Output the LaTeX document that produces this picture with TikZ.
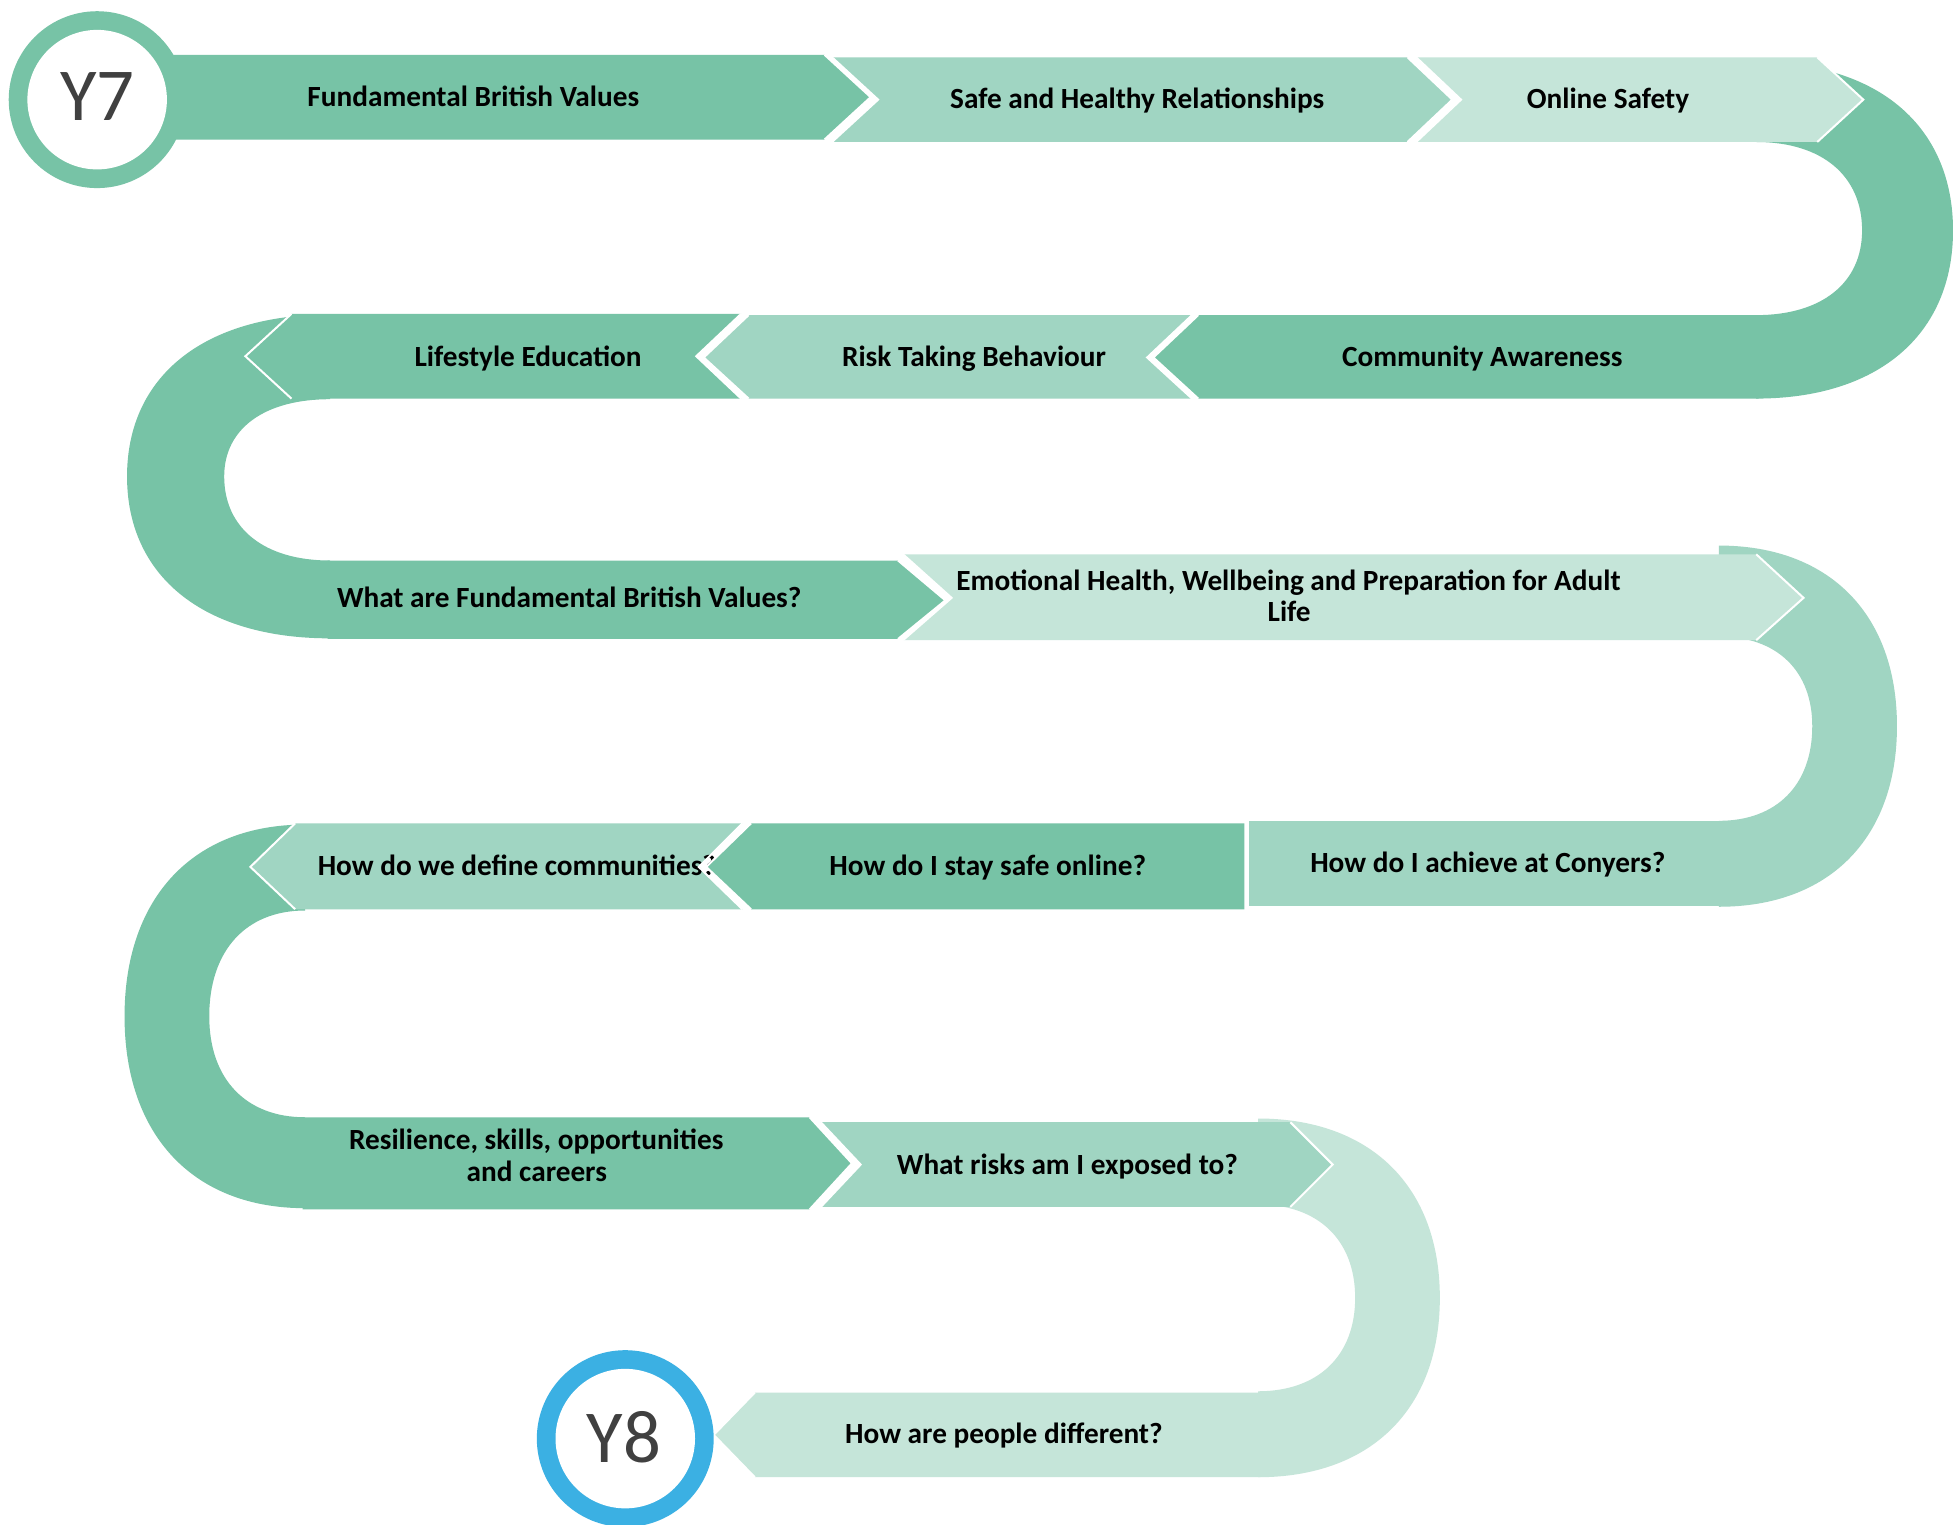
\documentclass[tikz,border=0pt]{standalone}
\usepackage{fontspec}
\setmainfont{Carlito}
\definecolor{gdark}{HTML}{77C3A6}
\definecolor{gmid}{HTML}{A0D5C2}
\definecolor{glight}{HTML}{C5E5D9}
\definecolor{yblue}{HTML}{3BB0E3}
\definecolor{ygray}{HTML}{404040}
\def\kk{0.62}
% #1 colour, #2 x0, #3 cy, #4 Rx, #5 Ry, #6 rx, #7 ry top, #8 ry bottom, #9 direction (1 right, -1 left)
\newcommand{\myUturn}[9]{%
 \fill[#1] ({#2},{#3-#5}) .. controls ({#2+(#9)*\kk*#4},{#3-#5}) and ({#2+(#9)*#4},{#3-\kk*#5}) .. ({#2+(#9)*#4},{#3})
   .. controls ({#2+(#9)*#4},{#3+\kk*#5}) and ({#2+(#9)*\kk*#4},{#3+#5}) .. ({#2},{#3+#5})
   -- ({#2},{#3+#8}) .. controls ({#2+(#9)*\kk*#6},{#3+#8}) and ({#2+(#9)*#6},{#3+\kk*#8}) .. ({#2+(#9)*#6},{#3})
   .. controls ({#2+(#9)*#6},{#3-\kk*#7}) and ({#2+(#9)*\kk*#6},{#3-#7}) .. ({#2},{#3-#7}) -- cycle;}
\tikzset{
  sepline/.style={white, line width=1.6pt, line join=miter},
  lbl/.style={font=\bfseries\fontsize{23.5}{28}\selectfont, anchor=base, inner sep=0pt, text=black},
  ylbl/.style={font=\fontsize{60}{70}\selectfont, anchor=base, inner sep=0pt, text=ygray}
}
\begin{document}
\begin{tikzpicture}[x=1pt,y=-1pt]
\useasboundingbox[fill=white] (0,0) rectangle (1568,1224);

% U-turns
\myUturn{gdark}{1410}{185}{158}{135}{85}{71}{68}{1}
\myUturn{gdark}{265}{382.5}{163}{130}{85}{62}{67.5}{-1}
\myUturn{gmid}{1380}{583}{143}{145}{75}{72}{76}{1}
\myUturn{gdark}{245}{816}{145}{154}{77}{85}{81}{-1}
\myUturn{glight}{1010}{1042}{146}{144}{78}{75}{75}{1}

% Row 1
\fill[gdark] (120,44) -- (662,44) -- (699,78) -- (662,112) -- (120,112) -- cycle;
\draw[sepline] (662,44) -- (699,78) -- (662,112);
\node[lbl] (fbv) at (380,85.5) {Fundamental British Values};
\fill[gmid] (668,46) -- (1130,46) -- (1166,80) -- (1130,114) -- (668,114) -- (705,80) -- cycle;
\draw[sepline] (668,46) -- (705,80) -- (668,114);
\draw[sepline] (1130,46) -- (1166,80) -- (1130,114);
\node[lbl] (shr) at (913,87) {Safe and Healthy Relationships};
\fill[glight] (1137,46) -- (1459,46) -- (1496,80) -- (1459,114) -- (1137,114) -- (1173,80) -- cycle;
\draw[sepline] (1137,46) -- (1173,80) -- (1137,114);
\draw[sepline] (1459,46) -- (1496,80) -- (1459,114);
\node[lbl] (os) at (1291,87) {Online Safety};

% Row 2
\fill[gdark] (1412,253) -- (962,253) -- (926,287) -- (962,320) -- (1412,320) -- cycle;
\draw[sepline] (962,253) -- (926,287) -- (962,320);
\node[lbl] (ca) at (1190,294.5) {Community Awareness};
\fill[gmid] (957,253) -- (601,253) -- (565,287) -- (601,320) -- (957,320) -- (921,287) -- cycle;
\draw[sepline] (957,253) -- (921,287) -- (957,320);
\draw[sepline] (601,253) -- (565,287) -- (601,320);
\node[lbl] (rtb) at (782,294) {Risk Taking Behaviour};
\fill[gdark] (595,252) -- (234,252) -- (197,286) -- (234,320) -- (595,320) -- (559,286) -- cycle;
\draw[sepline] (595,252) -- (559,286) -- (595,320);
\draw[sepline] (234,252) -- (197,286) -- (234,320);
\node[lbl] (le) at (424,294) {Lifestyle Education};

% Row 3
\fill[gdark] (263,450) -- (721,450) -- (759,482) -- (721,513) -- (263,513) -- cycle;
\draw[sepline] (721,450) -- (759,482) -- (721,513);
\node[lbl] (wfbv) at (457,487.6) {What are Fundamental British Values?};
\fill[glight] (725,445) -- (1410,445) -- (1448,480) -- (1410,514) -- (725,514) -- (764,480) -- cycle;
\draw[sepline] (725,445) -- (764,480) -- (725,514);
\draw[sepline] (1410,445) -- (1448,480) -- (1410,514);
\node[lbl] (emo1) at (1034.5,473.7) {Emotional Health, Wellbeing and Preparation for Adult};
\node[lbl] (emo2) at (1035,499) {Life};

% Row 4
\fill[gmid] (1003,659) -- (1382,659) -- (1382,727) -- (1003,727) -- cycle;
\node[lbl] (ach) at (1194.5,700.7) {How do I achieve at Conyers?};
\fill[gmid] (596,661) -- (237,661) -- (201,696) -- (237,730) -- (596,730) -- (561,696) -- cycle;
\draw[sepline] (237,661) -- (201,696) -- (237,730);
\node[lbl] (com) at (415,702.5) {How do we define communities?};
\fill[gdark] (999,661) -- (603,661) -- (567,696) -- (603,730) -- (999,730) -- cycle;
\draw[sepline] (603,661) -- (567,696) -- (603,730);
\draw[sepline] (596,661) -- (561,696) -- (596,730);
\node[lbl] (ssf) at (793,702.5) {How do I stay safe online?};

% Row 5
\fill[gdark] (243,897) -- (650,897) -- (684,934) -- (650,971) -- (243,971) -- cycle;
\draw[sepline] (650,897) -- (684,934) -- (650,971);
\node[lbl] (res1) at (430.5,922.8) {Resilience, skills, opportunities};
\node[lbl] (res2) at (431,948.2) {and careers};
\fill[gmid] (659,901) -- (1036,901) -- (1070,935) -- (1036,969) -- (659,969) -- (691,935) -- cycle;
\draw[sepline] (659,901) -- (691,935) -- (659,969);
\draw[sepline] (1036,901) -- (1070,935) -- (1036,969);
\node[lbl] (risk) at (857,942.6) {What risks am I exposed to?};

% Row 6
\fill[glight] (1012,1118) -- (606,1118) -- (573,1152) -- (606,1186) -- (1012,1186) -- cycle;
\draw[sepline] (606,1118) -- (573,1152) -- (606,1186);
\node[lbl] (ppl) at (806,1158.8) {How are people different?};

% Year circles
\fill[gdark] (78,80) circle[radius=71];
\fill[white] (78,80) circle[radius=56];
\node[ylbl] (y7) at (78,96.5) {Y7};
\fill[yblue] (502,1155) circle[radius=71];
\fill[white] (502,1155) circle[radius=56];
\node[ylbl] (y8) at (501,1174) {Y8};
\end{tikzpicture}
\end{document}
